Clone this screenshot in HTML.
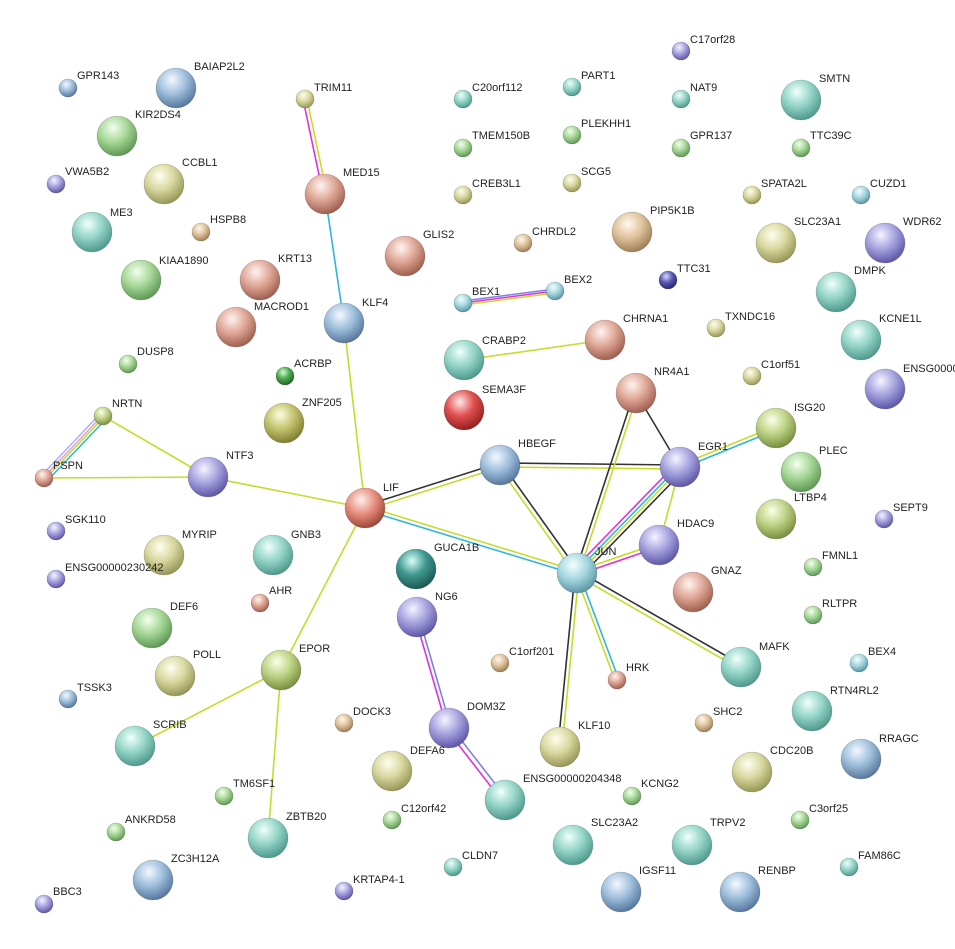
<!DOCTYPE html>
<html><head><meta charset="utf-8">
<style>
html,body{margin:0;padding:0;background:#fff;}
svg{display:block;}
text{font-family:"Liberation Sans",sans-serif;font-size:11px;fill:#222;}
</style></head>
<body>
<svg width="955" height="949" viewBox="0 0 955 949" xmlns="http://www.w3.org/2000/svg">
<defs>
<radialGradient id="g" cx="40%" cy="30%" r="70%"><stop offset="0" stop-color="#f4fff0"/><stop offset="0.5" stop-color="#a8d898"/><stop offset="1" stop-color="#5f9a55"/></radialGradient>
<radialGradient id="t" cx="40%" cy="30%" r="70%"><stop offset="0" stop-color="#f0fffc"/><stop offset="0.5" stop-color="#96d6c8"/><stop offset="1" stop-color="#4f9a8e"/></radialGradient>
<radialGradient id="b" cx="40%" cy="30%" r="70%"><stop offset="0" stop-color="#f4f8ff"/><stop offset="0.5" stop-color="#a0c0dc"/><stop offset="1" stop-color="#5878a0"/></radialGradient>
<radialGradient id="lb" cx="40%" cy="30%" r="70%"><stop offset="0" stop-color="#f4ffff"/><stop offset="0.5" stop-color="#a8d8e0"/><stop offset="1" stop-color="#5a98a8"/></radialGradient>
<radialGradient id="p" cx="40%" cy="30%" r="70%"><stop offset="0" stop-color="#f6f4ff"/><stop offset="0.5" stop-color="#a8a4e0"/><stop offset="1" stop-color="#5e58a8"/></radialGradient>
<radialGradient id="s" cx="40%" cy="30%" r="70%"><stop offset="0" stop-color="#fff4f0"/><stop offset="0.5" stop-color="#e0a898"/><stop offset="1" stop-color="#a06050"/></radialGradient>
<radialGradient id="y" cx="40%" cy="30%" r="70%"><stop offset="0" stop-color="#fffff0"/><stop offset="0.5" stop-color="#d8d8a0"/><stop offset="1" stop-color="#989858"/></radialGradient>
<radialGradient id="n" cx="40%" cy="30%" r="70%"><stop offset="0" stop-color="#fff8f0"/><stop offset="0.5" stop-color="#e0c49c"/><stop offset="1" stop-color="#a08058"/></radialGradient>
<radialGradient id="o" cx="40%" cy="30%" r="70%"><stop offset="0" stop-color="#fcffe0"/><stop offset="0.5" stop-color="#c4c470"/><stop offset="1" stop-color="#808030"/></radialGradient>
<radialGradient id="og" cx="40%" cy="30%" r="70%"><stop offset="0" stop-color="#fcffe8"/><stop offset="0.5" stop-color="#c0d488"/><stop offset="1" stop-color="#7a9040"/></radialGradient>
<radialGradient id="r" cx="40%" cy="30%" r="70%"><stop offset="0" stop-color="#ffe8e8"/><stop offset="0.5" stop-color="#e05050"/><stop offset="1" stop-color="#982020"/></radialGradient>
<radialGradient id="dg" cx="40%" cy="30%" r="70%"><stop offset="0" stop-color="#d0ffd0"/><stop offset="0.5" stop-color="#50a850"/><stop offset="1" stop-color="#206820"/></radialGradient>
<radialGradient id="db" cx="40%" cy="30%" r="70%"><stop offset="0" stop-color="#d8d8ff"/><stop offset="0.5" stop-color="#5858b0"/><stop offset="1" stop-color="#282870"/></radialGradient>
<radialGradient id="dt" cx="40%" cy="30%" r="70%"><stop offset="0" stop-color="#d8fff8"/><stop offset="0.5" stop-color="#409890"/><stop offset="1" stop-color="#1c5a55"/></radialGradient>
<radialGradient id="lf" cx="40%" cy="30%" r="70%"><stop offset="0" stop-color="#fff0ec"/><stop offset="0.5" stop-color="#e89080"/><stop offset="1" stop-color="#a04838"/></radialGradient>
</defs>

<g fill="none" stroke-width="1.6">
<!-- TRIM11-MED15 -->
<line x1="303" y1="99" x2="323" y2="194" stroke="#e030e0"/>
<line x1="307" y1="99" x2="327" y2="194" stroke="#c4dc2a"/>
<!-- MED15-KLF4 -->
<line x1="325" y1="194" x2="344" y2="323" stroke="#30b4e0"/>
<!-- KLF4-LIF -->
<line x1="344" y1="323" x2="365" y2="508" stroke="#c4dc2a"/>
<!-- NRTN-PSPN -->
<line x1="100" y1="414" x2="41" y2="476" stroke="#b0b0ff"/>
<line x1="102" y1="416" x2="43" y2="478" stroke="#e0a0e0"/>
<line x1="104" y1="417" x2="45" y2="479" stroke="#c4dc2a"/>
<line x1="106" y1="419" x2="47" y2="481" stroke="#30b4e0"/>
<line x1="103" y1="416" x2="208" y2="477" stroke="#c4dc2a"/>
<line x1="44" y1="478" x2="208" y2="477" stroke="#c4dc2a"/>
<line x1="208" y1="477" x2="365" y2="508" stroke="#c4dc2a"/>
<!-- LIF-HBEGF -->
<line x1="364" y1="506" x2="499" y2="463" stroke="#333"/>
<line x1="366" y1="510" x2="501" y2="467" stroke="#c4dc2a"/>
<!-- LIF-JUN -->
<line x1="365" y1="506" x2="577" y2="571" stroke="#c4dc2a"/>
<line x1="365" y1="510" x2="577" y2="575" stroke="#30b4e0"/>
<!-- LIF-EPOR -->
<line x1="365" y1="508" x2="281" y2="670" stroke="#c4dc2a"/>
<line x1="281" y1="670" x2="135" y2="746" stroke="#c4dc2a"/>
<line x1="281" y1="670" x2="268" y2="838" stroke="#c4dc2a"/>
<!-- NG6-DOM3Z-ENSG -->
<line x1="415" y1="617" x2="447" y2="728" stroke="#e030e0"/>
<line x1="419" y1="617" x2="451" y2="728" stroke="#8080e0"/>
<line x1="447" y1="730" x2="503" y2="802" stroke="#e030e0"/>
<line x1="451" y1="727" x2="507" y2="799" stroke="#8080e0"/>
<!-- BEX1-BEX2 -->
<line x1="463" y1="301" x2="555" y2="289" stroke="#8080e0"/>
<line x1="463" y1="303" x2="555" y2="291" stroke="#e030e0"/>
<line x1="463" y1="305" x2="555" y2="293" stroke="#c4dc2a"/>
<!-- CRABP2-CHRNA1 -->
<line x1="464" y1="360" x2="605" y2="340" stroke="#c4dc2a"/>
<!-- HBEGF-EGR1 -->
<line x1="500" y1="463" x2="680" y2="465" stroke="#333"/>
<line x1="500" y1="467" x2="680" y2="469" stroke="#c4dc2a"/>
<!-- HBEGF-JUN -->
<line x1="498" y1="466" x2="575" y2="574" stroke="#c4dc2a"/>
<line x1="502" y1="464" x2="579" y2="572" stroke="#333"/>
<!-- NR4A1-EGR1 -->
<line x1="636" y1="393" x2="680" y2="467" stroke="#333"/>
<!-- NR4A1-JUN -->
<line x1="634" y1="393" x2="575" y2="573" stroke="#333"/>
<line x1="638" y1="393" x2="579" y2="573" stroke="#c4dc2a"/>
<!-- EGR1-ISG20 -->
<line x1="680" y1="465" x2="776" y2="426" stroke="#c4dc2a"/>
<line x1="680" y1="469" x2="776" y2="430" stroke="#30b4e0"/>
<!-- EGR1-JUN -->
<line x1="676" y1="464" x2="573" y2="570" stroke="#e030e0"/>
<line x1="679" y1="466" x2="576" y2="572" stroke="#30b4e0"/>
<line x1="681" y1="468" x2="578" y2="574" stroke="#c4dc2a"/>
<line x1="684" y1="470" x2="581" y2="576" stroke="#333"/>
<!-- EGR1-HDAC9 -->
<line x1="680" y1="467" x2="659" y2="545" stroke="#c4dc2a"/>
<!-- HDAC9-JUN -->
<line x1="659" y1="543" x2="577" y2="571" stroke="#c4dc2a"/>
<line x1="659" y1="547" x2="577" y2="575" stroke="#e030e0"/>
<!-- JUN-MAFK -->
<line x1="578" y1="571" x2="742" y2="665" stroke="#333"/>
<line x1="576" y1="575" x2="740" y2="669" stroke="#c4dc2a"/>
<!-- JUN-KLF10 -->
<line x1="575" y1="573" x2="558" y2="747" stroke="#333"/>
<line x1="579" y1="573" x2="562" y2="747" stroke="#c4dc2a"/>
<!-- JUN-HRK -->
<line x1="575" y1="573" x2="615" y2="680" stroke="#c4dc2a"/>
<line x1="579" y1="573" x2="619" y2="680" stroke="#30b4e0"/>
</g>

<g stroke="rgba(0,0,0,0.25)" stroke-width="0.6">
<circle cx="68" cy="88" r="9" fill="url(#b)"/>
<circle cx="176" cy="88" r="20" fill="url(#b)"/>
<circle cx="117" cy="136" r="20" fill="url(#g)"/>
<circle cx="56" cy="184" r="9" fill="url(#p)"/>
<circle cx="164" cy="184" r="20" fill="url(#y)"/>
<circle cx="92" cy="232" r="20" fill="url(#t)"/>
<circle cx="201" cy="232" r="9" fill="url(#n)"/>
<circle cx="141" cy="280" r="20" fill="url(#g)"/>
<circle cx="260" cy="280" r="20" fill="url(#s)"/>
<circle cx="236" cy="327" r="20" fill="url(#s)"/>
<circle cx="128" cy="364" r="9" fill="url(#g)"/>
<circle cx="285" cy="376" r="9" fill="url(#dg)"/>
<circle cx="284" cy="423" r="20" fill="url(#o)"/>
<circle cx="103" cy="416" r="9" fill="url(#og)"/>
<circle cx="44" cy="478" r="9" fill="url(#s)"/>
<circle cx="208" cy="477" r="20" fill="url(#p)"/>
<circle cx="56" cy="531" r="9" fill="url(#p)"/>
<circle cx="164" cy="555" r="20" fill="url(#y)"/>
<circle cx="56" cy="579" r="9" fill="url(#p)"/>
<circle cx="273" cy="555" r="20" fill="url(#t)"/>
<circle cx="260" cy="603" r="9" fill="url(#s)"/>
<circle cx="152" cy="628" r="20" fill="url(#g)"/>
<circle cx="175" cy="676" r="20" fill="url(#y)"/>
<circle cx="68" cy="699" r="9" fill="url(#b)"/>
<circle cx="281" cy="670" r="20" fill="url(#og)"/>
<circle cx="135" cy="746" r="20" fill="url(#t)"/>
<circle cx="224" cy="796" r="9" fill="url(#g)"/>
<circle cx="116" cy="832" r="9" fill="url(#g)"/>
<circle cx="268" cy="838" r="20" fill="url(#t)"/>
<circle cx="153" cy="880" r="20" fill="url(#b)"/>
<circle cx="44" cy="904" r="9" fill="url(#p)"/>
<circle cx="305" cy="99" r="9" fill="url(#y)"/>
<circle cx="325" cy="194" r="20" fill="url(#s)"/>
<circle cx="344" cy="323" r="20" fill="url(#b)"/>
<circle cx="405" cy="256" r="20" fill="url(#s)"/>
<circle cx="365" cy="508" r="20" fill="url(#lf)"/>
<circle cx="416" cy="569" r="20" fill="url(#dt)"/>
<circle cx="417" cy="617" r="20" fill="url(#p)"/>
<circle cx="344" cy="723" r="9" fill="url(#n)"/>
<circle cx="449" cy="728" r="20" fill="url(#p)"/>
<circle cx="392" cy="771" r="20" fill="url(#y)"/>
<circle cx="392" cy="820" r="9" fill="url(#g)"/>
<circle cx="453" cy="867" r="9" fill="url(#t)"/>
<circle cx="344" cy="891" r="9" fill="url(#p)"/>
<circle cx="505" cy="800" r="20" fill="url(#t)"/>
<circle cx="500" cy="663" r="9" fill="url(#n)"/>
<circle cx="560" cy="747" r="20" fill="url(#y)"/>
<circle cx="632" cy="796" r="9" fill="url(#g)"/>
<circle cx="573" cy="845" r="20" fill="url(#t)"/>
<circle cx="621" cy="892" r="20" fill="url(#b)"/>
<circle cx="692" cy="845" r="20" fill="url(#t)"/>
<circle cx="740" cy="892" r="20" fill="url(#b)"/>
<circle cx="704" cy="723" r="9" fill="url(#n)"/>
<circle cx="617" cy="680" r="9" fill="url(#s)"/>
<circle cx="577" cy="573" r="20" fill="url(#lb)"/>
<circle cx="659" cy="545" r="20" fill="url(#p)"/>
<circle cx="693" cy="592" r="20" fill="url(#s)"/>
<circle cx="741" cy="667" r="20" fill="url(#t)"/>
<circle cx="500" cy="465" r="20" fill="url(#b)"/>
<circle cx="680" cy="467" r="20" fill="url(#p)"/>
<circle cx="636" cy="393" r="20" fill="url(#s)"/>
<circle cx="605" cy="340" r="20" fill="url(#s)"/>
<circle cx="464" cy="360" r="20" fill="url(#t)"/>
<circle cx="464" cy="410" r="20" fill="url(#r)"/>
<circle cx="463" cy="303" r="9" fill="url(#lb)"/>
<circle cx="555" cy="291" r="9" fill="url(#lb)"/>
<circle cx="523" cy="243" r="9" fill="url(#n)"/>
<circle cx="463" cy="195" r="9" fill="url(#y)"/>
<circle cx="572" cy="183" r="9" fill="url(#y)"/>
<circle cx="463" cy="148" r="9" fill="url(#g)"/>
<circle cx="572" cy="135" r="9" fill="url(#g)"/>
<circle cx="463" cy="99" r="9" fill="url(#t)"/>
<circle cx="572" cy="87" r="9" fill="url(#t)"/>
<circle cx="681" cy="51" r="9" fill="url(#p)"/>
<circle cx="681" cy="99" r="9" fill="url(#t)"/>
<circle cx="681" cy="148" r="9" fill="url(#g)"/>
<circle cx="632" cy="232" r="20" fill="url(#n)"/>
<circle cx="801" cy="100" r="20" fill="url(#t)"/>
<circle cx="801" cy="148" r="9" fill="url(#g)"/>
<circle cx="752" cy="195" r="9" fill="url(#y)"/>
<circle cx="861" cy="195" r="9" fill="url(#lb)"/>
<circle cx="776" cy="243" r="20" fill="url(#y)"/>
<circle cx="885" cy="243" r="20" fill="url(#p)"/>
<circle cx="668" cy="280" r="9" fill="url(#db)"/>
<circle cx="836" cy="292" r="20" fill="url(#t)"/>
<circle cx="716" cy="328" r="9" fill="url(#y)"/>
<circle cx="861" cy="340" r="20" fill="url(#t)"/>
<circle cx="752" cy="376" r="9" fill="url(#y)"/>
<circle cx="885" cy="389" r="20" fill="url(#p)"/>
<circle cx="776" cy="428" r="20" fill="url(#og)"/>
<circle cx="801" cy="472" r="20" fill="url(#g)"/>
<circle cx="776" cy="519" r="20" fill="url(#og)"/>
<circle cx="884" cy="519" r="9" fill="url(#p)"/>
<circle cx="813" cy="567" r="9" fill="url(#g)"/>
<circle cx="813" cy="615" r="9" fill="url(#g)"/>
<circle cx="859" cy="663" r="9" fill="url(#lb)"/>
<circle cx="812" cy="711" r="20" fill="url(#t)"/>
<circle cx="861" cy="759" r="20" fill="url(#b)"/>
<circle cx="752" cy="772" r="20" fill="url(#y)"/>
<circle cx="800" cy="820" r="9" fill="url(#g)"/>
<circle cx="849" cy="867" r="9" fill="url(#t)"/>
</g>

<g>
<text x="77" y="79">GPR143</text>
<text x="194" y="70">BAIAP2L2</text>
<text x="135" y="118">KIR2DS4</text>
<text x="65" y="175">VWA5B2</text>
<text x="182" y="166">CCBL1</text>
<text x="110" y="216">ME3</text>
<text x="210" y="223">HSPB8</text>
<text x="159" y="264">KIAA1890</text>
<text x="278" y="262">KRT13</text>
<text x="254" y="310">MACROD1</text>
<text x="137" y="355">DUSP8</text>
<text x="294" y="367">ACRBP</text>
<text x="302" y="406">ZNF205</text>
<text x="112" y="407">NRTN</text>
<text x="53" y="469">PSPN</text>
<text x="226" y="459">NTF3</text>
<text x="65" y="523">SGK110</text>
<text x="182" y="538">MYRIP</text>
<text x="65" y="571">ENSG00000230242</text>
<text x="291" y="538">GNB3</text>
<text x="269" y="594">AHR</text>
<text x="170" y="610">DEF6</text>
<text x="193" y="658">POLL</text>
<text x="77" y="691">TSSK3</text>
<text x="299" y="652">EPOR</text>
<text x="153" y="728">SCRIB</text>
<text x="233" y="787">TM6SF1</text>
<text x="125" y="823">ANKRD58</text>
<text x="286" y="820">ZBTB20</text>
<text x="171" y="862">ZC3H12A</text>
<text x="53" y="895">BBC3</text>
<text x="314" y="91">TRIM11</text>
<text x="343" y="176">MED15</text>
<text x="362" y="306">KLF4</text>
<text x="423" y="238">GLIS2</text>
<text x="383" y="491">LIF</text>
<text x="434" y="551">GUCA1B</text>
<text x="435" y="600">NG6</text>
<text x="353" y="715">DOCK3</text>
<text x="467" y="710">DOM3Z</text>
<text x="410" y="754">DEFA6</text>
<text x="401" y="812">C12orf42</text>
<text x="462" y="859">CLDN7</text>
<text x="353" y="883">KRTAP4-1</text>
<text x="523" y="782">ENSG00000204348</text>
<text x="509" y="655">C1orf201</text>
<text x="578" y="729">KLF10</text>
<text x="641" y="787">KCNG2</text>
<text x="591" y="826">SLC23A2</text>
<text x="639" y="874">IGSF11</text>
<text x="710" y="826">TRPV2</text>
<text x="758" y="874">RENBP</text>
<text x="713" y="715">SHC2</text>
<text x="626" y="671">HRK</text>
<text x="595" y="555">JUN</text>
<text x="677" y="527">HDAC9</text>
<text x="711" y="574">GNAZ</text>
<text x="759" y="650">MAFK</text>
<text x="518" y="447">HBEGF</text>
<text x="698" y="450">EGR1</text>
<text x="654" y="375">NR4A1</text>
<text x="623" y="322">CHRNA1</text>
<text x="482" y="344">CRABP2</text>
<text x="482" y="393">SEMA3F</text>
<text x="472" y="295">BEX1</text>
<text x="564" y="283">BEX2</text>
<text x="532" y="235">CHRDL2</text>
<text x="472" y="187">CREB3L1</text>
<text x="581" y="175">SCG5</text>
<text x="472" y="139">TMEM150B</text>
<text x="581" y="127">PLEKHH1</text>
<text x="472" y="91">C20orf112</text>
<text x="581" y="79">PART1</text>
<text x="690" y="43">C17orf28</text>
<text x="690" y="91">NAT9</text>
<text x="690" y="139">GPR137</text>
<text x="650" y="214">PIP5K1B</text>
<text x="819" y="82">SMTN</text>
<text x="810" y="139">TTC39C</text>
<text x="761" y="187">SPATA2L</text>
<text x="870" y="187">CUZD1</text>
<text x="794" y="225">SLC23A1</text>
<text x="903" y="225">WDR62</text>
<text x="677" y="272">TTC31</text>
<text x="854" y="274">DMPK</text>
<text x="725" y="320">TXNDC16</text>
<text x="879" y="322">KCNE1L</text>
<text x="761" y="368">C1orf51</text>
<text x="903" y="372">ENSG0000</text>
<text x="794" y="411">ISG20</text>
<text x="819" y="454">PLEC</text>
<text x="794" y="501">LTBP4</text>
<text x="893" y="511">SEPT9</text>
<text x="822" y="559">FMNL1</text>
<text x="822" y="607">RLTPR</text>
<text x="868" y="655">BEX4</text>
<text x="830" y="694">RTN4RL2</text>
<text x="879" y="742">RRAGC</text>
<text x="770" y="754">CDC20B</text>
<text x="809" y="812">C3orf25</text>
<text x="858" y="859">FAM86C</text>
</g>
</svg>
</body></html>
